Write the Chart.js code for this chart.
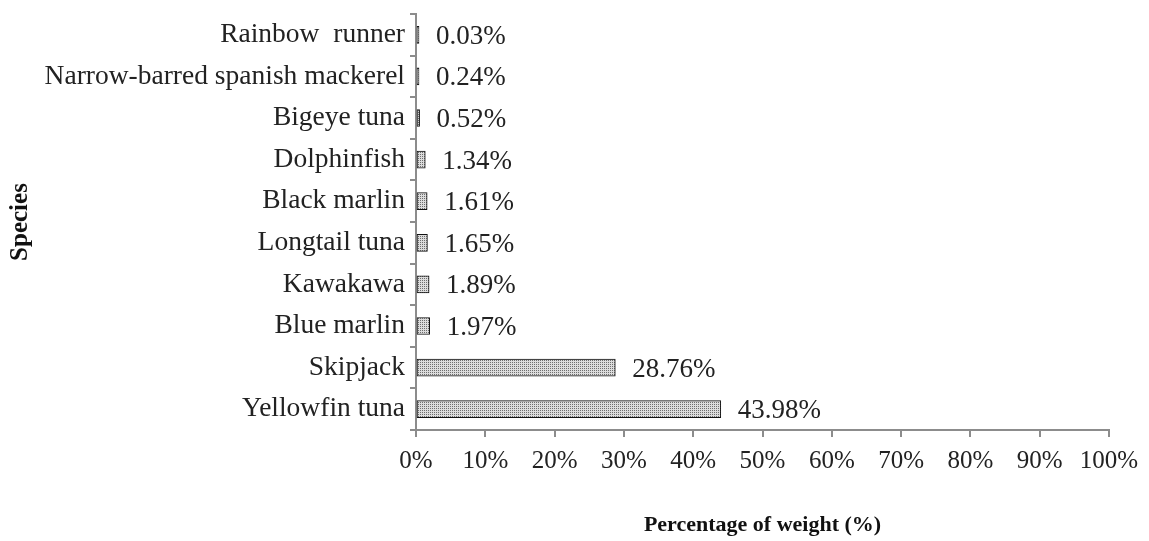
<!DOCTYPE html>
<html>
<head>
<meta charset="utf-8">
<script src="https://cdn.jsdelivr.net/npm/chart.js@4.4.1/dist/chart.umd.min.js"></script>
<style>
  body { margin: 0; background: #fff; }
  canvas { display: block; }
</style>
</head>
<body>
<canvas id="speciesChart" width="1149" height="541"></canvas>
<script>
// --- DATA ---
const species = [
    'Rainbow  runner',
    'Narrow-barred spanish mackerel',
    'Bigeye tuna',
    'Dolphinfish',
    'Black marlin',
    'Longtail tuna',
    'Kawakawa',
    'Blue marlin',
    'Skipjack',
    'Yellowfin tuna'
];
const weightPercent = [0.03, 0.24, 0.52, 1.34, 1.61, 1.65, 1.89, 1.97, 28.76, 43.98];
const xTicks = [0, 10, 20, 30, 40, 50, 60, 70, 80, 90, 100];

const FONT = '"Liberation Serif", "DejaVu Serif", serif';
const AXIS_GREY = '#8c8c8c';

// fine dotted fill like the original print
const makeDotPattern = () => {
    const c = document.createElement('canvas');
    c.width = 2;
    c.height = 2;
    const g = c.getContext('2d');
    g.fillStyle = '#dcdcdc';
    g.fillRect(0, 0, 2, 2);
    g.fillStyle = '#6e6e6e';
    g.fillRect(0, 0, 1, 1);
    return g.createPattern(c, 'repeat');
};

// value labels at the end of each bar
const valueLabels = {
    id: 'valueLabels',
    afterDatasetsDraw(chart) {
        const ctx = chart.ctx;
        const meta = chart.getDatasetMeta(0);
        ctx.save();
        ctx.font = `27px ${FONT}`;
        ctx.fillStyle = '#222';
        ctx.textAlign = 'left';
        ctx.textBaseline = 'middle';
        meta.data.forEach((bar, i) => {
            ctx.fillText(weightPercent[i].toFixed(2) + '%', bar.x + 17, bar.y + 2);
        });
        ctx.restore();
    }
};

const ctx = document.getElementById('speciesChart').getContext('2d');
new Chart(ctx, {
    type: 'bar',
    data: {
        labels: species,
        datasets: [{
            data: weightPercent,
            backgroundColor: makeDotPattern(),
            borderColor: '#111',
            borderWidth: 1,
            barThickness: 17,
            minBarLength: 3,
            borderSkipped: false
        }]
    },
    options: {
        indexAxis: 'y',
        responsive: false,
        animation: false,
        layout: { padding: { top: 14, right: 40, bottom: 0, left: 0 } },
        plugins: {
            legend: { display: false },
            tooltip: { enabled: false }
        },
        scales: {
            x: {
                min: 0,
                max: 100,
                afterBuildTicks: scale => { scale.ticks = xTicks.map(v => ({ value: v })); },
                afterFit: scale => { scale.height = 111; },
                grid: { drawOnChartArea: false, color: AXIS_GREY, tickLength: 7, lineWidth: 2 },
                border: { color: AXIS_GREY, width: 2 },
                ticks: {
                    color: '#222',
                    padding: 9,
                    font: { family: FONT, size: 25 },
                    maxRotation: 0,
                    autoSkip: false,
                    callback: v => v + '%'
                },
                title: {
                    display: true,
                    text: 'Percentage of weight (%)',
                    color: '#111',
                    font: { family: FONT, size: 22, weight: 'bold' },
                    padding: { top: 0, bottom: 2 }
                }
            },
            y: {
                afterFit: scale => {
                    scale.width = 416;
                    scale.paddingTop = 0;
                    scale.paddingBottom = 0;
                },
                grid: { drawOnChartArea: false, offset: true, color: AXIS_GREY, tickLength: 6, lineWidth: 2 },
                border: { color: AXIS_GREY, width: 2 },
                ticks: {
                    color: '#222',
                    padding: 5,
                    autoSkip: false,
                    font: { family: FONT, size: 27.5 }
                },
                title: {
                    display: true,
                    text: 'Species',
                    color: '#111',
                    font: { family: FONT, size: 25, weight: 'bold' },
                    padding: { top: 6, bottom: 0 }
                }
            }
        }
    },
    plugins: [valueLabels]
});
</script>
</body>
</html>
